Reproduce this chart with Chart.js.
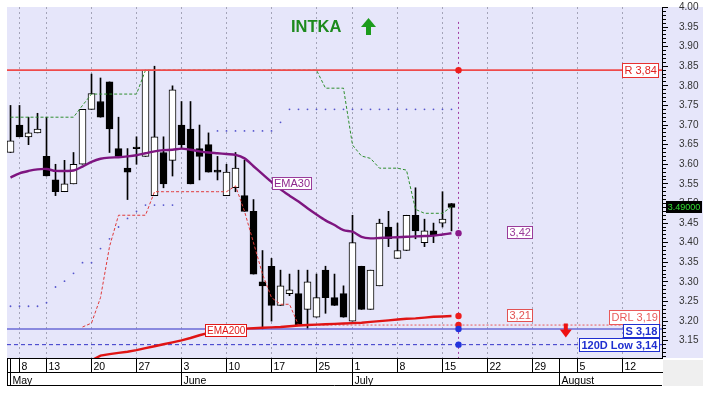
<!DOCTYPE html>
<html><head><meta charset="utf-8">
<script src="https://cdn.jsdelivr.net/npm/chart.js@4.4.1/dist/chart.umd.min.js"></script>
<style>html,body{margin:0;padding:0;background:#fff}#wrap{width:718px;height:398px}</style>
</head><body><div id="wrap"><canvas id="c" width="718" height="398"></canvas></div>
<script>
// ---------- data ----------
const dates = [
 '2019-05-07','2019-05-08','2019-05-09','2019-05-10','2019-05-13','2019-05-14','2019-05-15','2019-05-16','2019-05-17',
 '2019-05-20','2019-05-21','2019-05-22','2019-05-23','2019-05-24','2019-05-27','2019-05-28','2019-05-29','2019-05-30','2019-05-31',
 '2019-06-03','2019-06-04','2019-06-05','2019-06-06','2019-06-07','2019-06-10','2019-06-11','2019-06-12','2019-06-13','2019-06-14',
 '2019-06-17','2019-06-18','2019-06-19','2019-06-20','2019-06-21','2019-06-25','2019-06-26','2019-06-27','2019-06-28',
 '2019-07-01','2019-07-02','2019-07-03','2019-07-04','2019-07-05','2019-07-08','2019-07-09','2019-07-10','2019-07-11','2019-07-12',
 '2019-07-15','2019-07-16','2019-07-17','2019-07-18','2019-07-19','2019-07-22','2019-07-23','2019-07-24','2019-07-25','2019-07-26',
 '2019-07-29','2019-07-30','2019-07-31','2019-08-01','2019-08-02','2019-08-05','2019-08-06','2019-08-07','2019-08-08','2019-08-09',
 '2019-08-12','2019-08-13','2019-08-14','2019-08-16','2019-08-19'
];
const open  = [3.63,3.70,3.67,3.68,3.62,3.56,3.53,3.55,3.60,3.74, 3.76,3.81,3.64,3.59,3.644,3.62,3.52,3.63,3.61,3.70,
               3.69,3.64,3.65,3.585,3.52,3.54,3.52,3.48,3.30,3.34, 3.24,3.27,3.27,3.23,3.21,3.33,3.26,3.27,3.20,3.34,
               3.23,3.29,3.44,3.36,3.38,3.47,3.40,3.43,3.45,3.50];
const high  = [3.75,3.75,3.72,3.73,3.72,3.60,3.61,3.63,3.74,3.83, 3.82,3.81,3.72,3.64,3.67,3.84,3.85,3.67,3.80,3.76,
               3.76,3.70,3.68,3.62,3.60,3.63,3.61,3.51,3.38,3.36, 3.33,3.32,3.33,3.33,3.32,3.34,3.32,3.29,3.47,3.34,
               3.33,3.46,3.48,3.45,3.47,3.54,3.46,3.45,3.53,3.50];
const low   = [3.63,3.67,3.65,3.68,3.57,3.52,3.53,3.55,3.60,3.74, 3.72,3.63,3.62,3.51,3.60,3.62,3.52,3.54,3.57,3.64,
               3.55,3.56,3.58,3.56,3.52,3.53,3.48,3.32,3.18,3.20, 3.24,3.265,3.19,3.18,3.21,3.22,3.24,3.21,3.20,3.23,
               3.23,3.29,3.39,3.36,3.38,3.41,3.39,3.40,3.44,3.43];
const close = [3.66,3.67,3.68,3.69,3.57,3.53,3.55,3.60,3.74,3.78, 3.72,3.69,3.62,3.58,3.64,3.84,3.67,3.55,3.79,3.65,
               3.55,3.62,3.58,3.58,3.58,3.59,3.48,3.32,3.29,3.24, 3.29,3.28,3.19,3.30,3.26,3.26,3.24,3.21,3.40,3.23,
               3.33,3.45,3.41,3.38,3.47,3.43,3.43,3.42,3.46,3.49];
const ema30 = [3.566,3.577,3.583,3.587,3.588,3.583,3.583,3.584,3.594,3.606, 3.614,3.617,3.618,3.620,3.623,3.628,3.633,3.636,3.637,3.640,
               3.637,3.633,3.630,3.628,3.626,3.624,3.615,3.595,3.575,3.555, 3.536,3.520,3.505,3.488,3.472,3.457,3.445,3.432,3.428,3.415,
               3.411,3.412,3.413,3.414,3.415,3.416,3.417,3.418,3.421,3.424];
const ema200 = [null,null,null,null,null,null,null,null,null,3.100, 3.112,3.116,3.119,3.122,3.126,3.131,3.136,3.141,3.146,3.151,
               3.157,3.164,3.170,3.174,3.177,3.179,3.181,3.182,3.183,3.184, 3.185,3.187,3.189,3.190,3.191,3.192,3.193,3.194,3.195,3.196,
               3.198,3.200,3.202,3.204,3.206,3.207,3.209,3.211,3.212,3.213];
const upperStop = [3.72,3.72,3.72,3.72,3.72,3.72,3.72,3.72,3.75,3.779, 3.779,3.779,3.779,3.779,3.779,3.84,3.84,3.84,3.84,3.84,
               3.84,3.84,3.84,3.84,3.84,3.84,3.84,3.84,3.84,3.84, 3.84,3.84,3.84,3.84,3.84,3.794,3.794,3.794,3.649,3.621,
               3.615,3.59,3.59,3.59,3.585,3.485,3.475,3.475,3.475,3.492];
const lowerStop = [null,null,null,null,null,null,null,null,3.185,3.195, 3.26,3.39,3.47,3.47,3.47,3.47,3.53,3.53,3.53,3.53,
               3.53,3.53,3.53,3.53,3.53,3.545,3.48,3.40,3.32,3.26, 3.243,3.243,3.19,null,null,null,null,null,null,null,
               null,null,null,null,null,null,null,null,null,null];
const sarDots = [3.238,3.238,3.238,3.238,3.247,3.287,3.302,3.322,3.349,3.349, 3.385,3.41,3.44,3.462,3.48,3.496,3.496,3.496,3.496,null,
               null,null,null,3.685,3.685,3.685,3.685,3.685,3.685,3.685, 3.707,3.74,3.74,3.74,3.74,3.74,3.74,3.74,3.74,3.74,
               3.74,3.74,3.74,3.74,3.74,3.74,3.74,3.74,3.74,3.74];
const resistance = 3.84, support = 3.18, low120 = 3.14, drl = 3.19, drlStartIdx = 32;
const lastPrice = 3.49;
const weekTickDates = ['2019-05-08','2019-05-13','2019-05-20','2019-05-27','2019-06-03','2019-06-10','2019-06-17','2019-06-25',
                       '2019-07-01','2019-07-08','2019-07-15','2019-07-22','2019-07-29','2019-08-05','2019-08-12'];
const monthTickDates = ['2019-05-07','2019-06-03','2019-07-01','2019-08-01'];
const monthNames = ['May','June','July','August'];
const yMin = 3.106, yMax = 4.001;
const yLabelValues = [4.00,3.95,3.90,3.85,3.80,3.75,3.70,3.65,3.60,3.55,3.50,3.45,3.40,3.35,3.30,3.25,3.20,3.15];

// ---------- helpers ----------
const X_MIN = -0.39, X_MAX = 72.39;
const idxOf = d => dates.indexOf(d);
const weekIdx = weekTickDates.map(idxOf);
const monthIdx = monthTickDates.map(idxOf);
const xTickVals = Array.from(new Set(weekIdx.concat(monthIdx))).sort((a,b)=>a-b);
const lastIdx = close.length - 1;
const markerX = lastIdx + 0.78;
const FONT = "'Liberation Sans', Arial, sans-serif";
const isMajor = v => yLabelValues.some(l => Math.abs(l - v) < 1e-6);
const fmt = v => v.toFixed(2).replace('.', ',');
const ci = close.map((_, i) => i);
const series = arr => arr.map((v, i) => ({x: i, y: v}));
const hline = (v, from, to) => [{x: from, y: v}, {x: to, y: v}];

const datasets = [
  {type:'bar', data: ci.map(i => ({x:i, y:[low[i], high[i]]})), backgroundColor:'#000', borderWidth:0,
   barThickness:1, grouped:false, order:20},
  {type:'bar', data: ci.map(i => ({x:i, y:[open[i], close[i]]})),
   backgroundColor: ci.map(i => close[i] >= open[i] ? '#ffffff' : '#000000'),
   borderColor:'#000', borderWidth:1, borderSkipped:false, barThickness:7, grouped:false, order:19},
  {type:'line', data: series(sarDots), showLine:false, pointRadius:0.9, pointBackgroundColor:'#5555cc', pointBorderWidth:0, order:18},
  {type:'line', data: hline(support, X_MIN, X_MAX), borderColor:'#6a6ad6', borderWidth:1.6, pointRadius:0, order:9},
  {type:'line', data: hline(low120, X_MIN, X_MAX), borderColor:'#3434c8', borderWidth:1, borderDash:[4,3], pointRadius:0, order:9},
  {type:'line', data: hline(drl, drlStartIdx, X_MAX), borderColor:'#e85a5a', borderWidth:1, borderDash:[2,2], pointRadius:0, order:8},
  {type:'line', data: series(upperStop), borderColor:'#2f8f2f', borderWidth:1, borderDash:[3,2], pointRadius:0, order:7},
  {type:'line', data: series(lowerStop), borderColor:'#e03a3a', borderWidth:1, borderDash:[3,2], pointRadius:0, order:7},
  {type:'line', data: hline(resistance, X_MIN, X_MAX), borderColor:'#ef4a4a', borderWidth:1.8, pointRadius:0, order:6.5},
  {type:'line', data: series(ema200), borderColor:'#e01414', borderWidth:2.4, pointRadius:0, order:6},
  {type:'line', data: series(ema30), borderColor:'#7e1580', borderWidth:2.4, pointRadius:0, tension:0.3, order:5},
  {type:'line', data: [{x:markerX, y:3.963}, {x:markerX, y:yMin}], borderColor:'#a23aa2', borderWidth:1, borderDash:[2,3], pointRadius:0, order:4},
  {type:'line', showLine:false, order:3, pointRadius:3.2, pointBorderWidth:0,
   data: [{x:markerX,y:resistance},{x:markerX,y:ema30[lastIdx]},{x:markerX,y:ema200[lastIdx]},{x:markerX,y:drl},{x:markerX,y:support},{x:markerX,y:low120}],
   pointBackgroundColor: ['#ee1c1c','#8a1a8a','#ee1c1c','#ee1c1c','#2233dd','#2233dd']}
];

function box(ctx, text, o) {
  ctx.font = o.font;
  const w = Math.round(ctx.measureText(text).width + 2 * o.padX);
  const h = o.h;
  let left = o.align === 'right' ? o.x - w : (o.align === 'center' ? o.x - w / 2 : o.x);
  left = Math.round(left) + 0.5;
  const top = Math.round(o.y - h / 2) + 0.5;
  ctx.fillStyle = o.bg || '#fff';
  ctx.fillRect(left, top, w, h);
  ctx.strokeStyle = o.border; ctx.lineWidth = 1;
  ctx.strokeRect(left, top, w, h);
  ctx.fillStyle = o.color; ctx.textBaseline = 'middle'; ctx.textAlign = 'left';
  ctx.fillText(text, left + o.padX, top + h / 2 + 0.5);
}

const decor = {
  id: 'decor',
  beforeDraw(chart) {
    const {ctx, chartArea: ca, scales} = chart;
    const ys = scales.y;
    ctx.save();
    ctx.fillStyle = '#ffffff'; ctx.fillRect(0, 0, chart.width, chart.height);
    ctx.fillStyle = '#e6e6fa'; ctx.fillRect(ca.left, ca.top, ys.right - ca.left, ca.bottom - ca.top);
    ctx.fillStyle = '#efefef'; ctx.fillRect(ys.left + 1, ca.bottom + 2, ys.right - ys.left - 1, scales.x2.bottom - ca.bottom - 2);
    ctx.restore();
  },
  afterDraw(chart) {
    const {ctx, chartArea: ca, scales} = chart;
    const xs = scales.x, ys = scales.y;
    ctx.save();
    ctx.strokeStyle = '#000'; ctx.lineWidth = 1;
    ctx.beginPath();
    ctx.moveTo(ca.left + 0.5, ca.bottom); ctx.lineTo(ca.left + 0.5, scales.x2.bottom);
    ctx.moveTo(ca.left, scales.x2.bottom - 0.5); ctx.lineTo(ca.right, scales.x2.bottom - 0.5);
    ctx.stroke();
    // title
    ctx.fillStyle = '#1d8a1d'; ctx.font = 'bold 16.5px ' + FONT; ctx.textBaseline = 'alphabetic'; ctx.textAlign = 'left';
    ctx.fillText('INTKA', 291, 32);
    // green up arrow
    ctx.fillStyle = '#1c9c1c';
    ctx.beginPath(); ctx.moveTo(368.5, 18); ctx.lineTo(376, 27); ctx.lineTo(361, 27); ctx.closePath(); ctx.fill();
    ctx.fillRect(366, 26, 5, 9);
    // red down arrow
    const ax = xs.getPixelForValue(61.7), aTop = ys.getPixelForValue(3.194), aBot = ys.getPixelForValue(3.158);
    ctx.fillStyle = '#ee1111';
    ctx.fillRect(ax - 2, aTop, 4, 7);
    ctx.beginPath(); ctx.moveTo(ax - 6, aTop + 6); ctx.lineTo(ax + 6, aTop + 6); ctx.lineTo(ax, aBot); ctx.closePath(); ctx.fill();
    // line labels
    const rx = ca.right - 3;
    const base = {padX: 2, h: 14};
    box(ctx, 'R ' + fmt(resistance), {...base, x: rx - 1, align: 'right', y: ys.getPixelForValue(resistance), font: '11px ' + FONT, color: '#e02020', border: '#e83030'});
    box(ctx, 'DRL ' + fmt(drl), {...base, x: rx, align: 'right', y: ys.getPixelForValue(drl) - 8, font: '11px ' + FONT, color: '#ea5a5a', border: '#ea5a5a'});
    box(ctx, 'S ' + fmt(support), {...base, x: rx, align: 'right', y: ys.getPixelForValue(support) + 1.5, font: 'bold 11px ' + FONT, color: '#1f2fd0', border: '#1f2fd0', h: 13});
    box(ctx, '120D Low ' + fmt(low120), {...base, x: rx, align: 'right', y: ys.getPixelForValue(low120), font: 'bold 11px ' + FONT, color: '#1f2fd0', border: '#1f2fd0', h: 13});
    const lx = xs.getPixelForValue(56.6);
    box(ctx, fmt(ema200[lastIdx]), {...base, x: lx, align: 'center', y: ys.getPixelForValue(ema200[lastIdx]) - 1, font: '11px ' + FONT, color: '#e25252', border: '#e25252', h: 12});
    box(ctx, fmt(ema30[lastIdx]), {...base, x: lx, align: 'center', y: ys.getPixelForValue(ema30[lastIdx]) - 1, font: '11px ' + FONT, color: '#9a3c9a', border: '#9a3c9a', h: 12});
    box(ctx, 'EMA30', {...base, padX: 1.5, x: xs.getPixelForValue(31.2), align: 'center', y: ys.getPixelForValue(ema30[31]) - 13, font: '11px ' + FONT, color: '#8e2a8e', border: '#9a3c9a', h: 12});
    box(ctx, 'EMA200', {...base, padX: 1.5, x: xs.getPixelForValue(23.9), align: 'center', y: ys.getPixelForValue(ema200[24]), font: '10px ' + FONT, color: '#e01818', border: '#e01818', h: 12});
    // last price box on the axis
    const py = ys.getPixelForValue(lastPrice);
    ctx.fillStyle = '#000'; ctx.fillRect(ys.left + 4, Math.round(py - 6), 36, 12);
    ctx.fillStyle = '#33dd33'; ctx.font = '9px ' + FONT; ctx.textAlign = 'center'; ctx.textBaseline = 'middle';
    ctx.fillText(lastPrice.toFixed(5), ys.left + 22, Math.round(py - 6) + 6.5);
    ctx.restore();
  }
};

new Chart(document.getElementById('c'), {
  type: 'line',
  data: {datasets},
  options: {
    responsive: false, animation: false, events: [],
    layout: {padding: {left: 7, top: 7, right: 15, bottom: 12}},
    plugins: {legend: {display: false}, tooltip: {enabled: false}, title: {display: false}},
    scales: {
      x: {
        type: 'linear', position: 'bottom', min: X_MIN, max: X_MAX, offset: false, weight: 0,
        afterBuildTicks: s => { s.ticks = xTickVals.map(v => ({value: v})); },
        afterFit: s => { s.height = 14; s.paddingLeft = 0; s.paddingRight = 0; },
        ticks: {autoSkip: false, maxRotation: 0, minRotation: 0, align: 'start', labelOffset: 2, padding: -11,
                font: {family: FONT, size: 10.5}, color: '#000',
                callback: v => weekIdx.includes(v) ? String(parseInt(dates[v].slice(8), 10)) : ''},
        grid: {offset: false, tickLength: 14, tickColor: '#000', lineWidth: 1,
               color: c => (c.tick && weekIdx.includes(c.tick.value)) ? '#a4a4b8' : 'rgba(0,0,0,0)'},
        border: {display: true, color: '#000', width: 1, dash: [2, 3]}
      },
      x2: {
        type: 'linear', axis: 'x', position: 'bottom', min: X_MIN, max: X_MAX, offset: false, weight: 1,
        afterBuildTicks: s => { s.ticks = monthIdx.map(v => ({value: v})); },
        afterFit: s => { s.height = 14; s.paddingLeft = 0; s.paddingRight = 0; },
        ticks: {autoSkip: false, maxRotation: 0, minRotation: 0, align: 'start', labelOffset: 2, padding: -11,
                font: {family: FONT, size: 10.5}, color: '#000',
                callback: v => monthNames[monthIdx.indexOf(v)] || ''},
        grid: {offset: false, drawOnChartArea: false, tickLength: 14, tickColor: '#000'},
        border: {display: true, color: '#000', width: 1}
      },
      y: {
        type: 'linear', position: 'right', min: yMin, max: yMax,
        afterBuildTicks: s => { const t = []; for (let k = 400; k >= 311; k--) t.push({value: k / 100}); s.ticks = t.reverse(); },
        afterFit: s => { s.width = 41; s.paddingTop = 0; s.paddingBottom = 0; },
        ticks: {autoSkip: false, padding: 11, font: {family: FONT, size: 10}, color: '#333',
                callback: v => isMajor(v) ? v.toFixed(2) : ''},
        grid: {drawOnChartArea: false, tickLength: 6, tickColor: '#000',
               tickBorderDash: c => (c.tick && isMajor(c.tick.value)) ? [] : [3, 20]},
        border: {display: true, color: '#000', width: 1}
      }
    }
  },
  plugins: [decor]
});
</script>
</body></html>
